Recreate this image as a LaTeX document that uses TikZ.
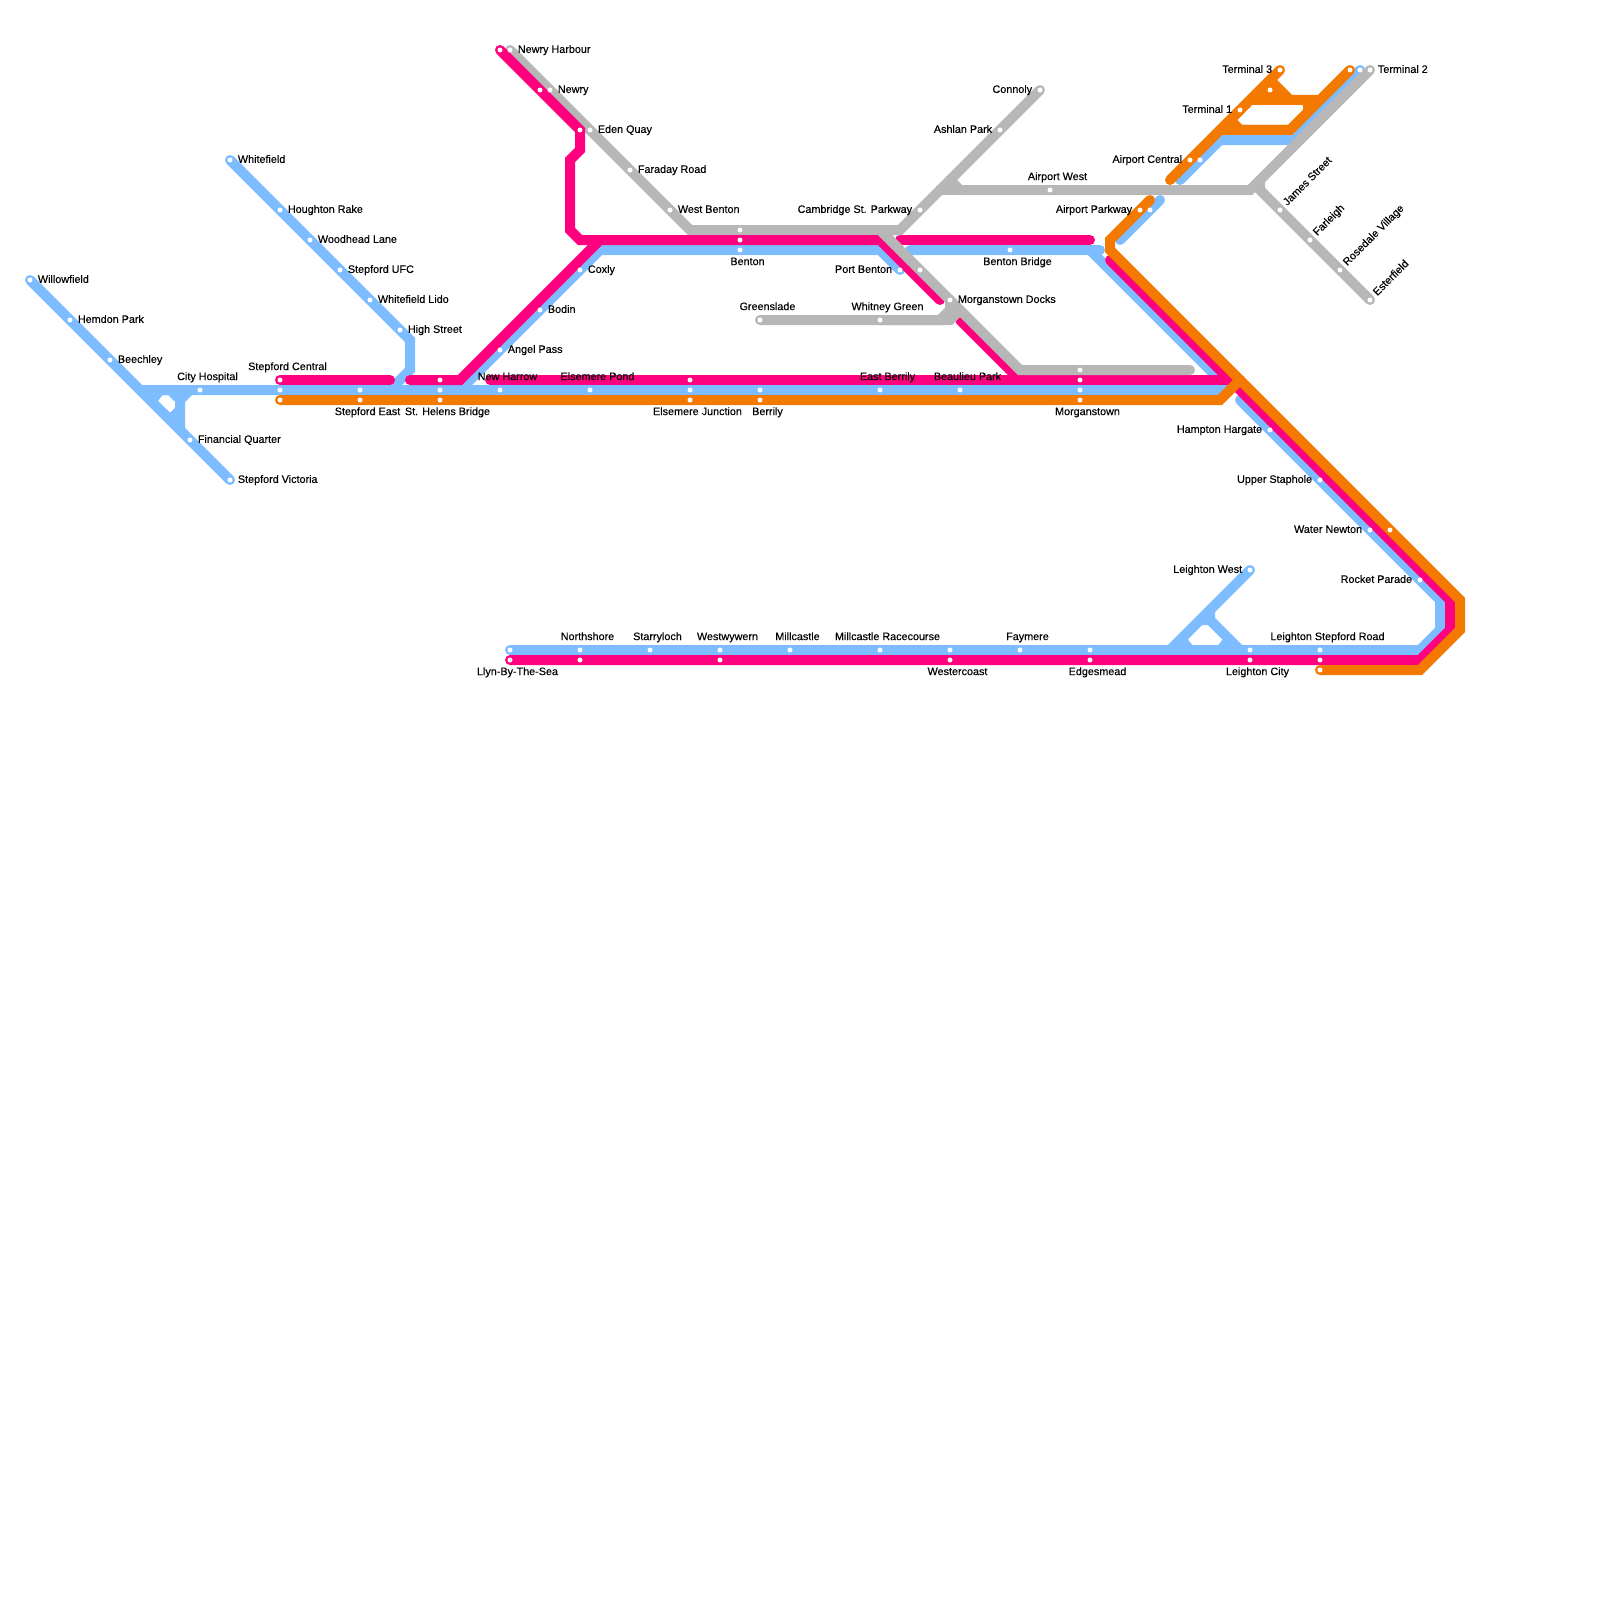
\documentclass[tikz,border=0pt]{standalone}
\usepackage{fontspec}
\setmainfont{Liberation Sans}
\newfontfamily\lblfont[FakeBold=0.3]{Liberation Sans}
\usepackage{tikz}
\usetikzlibrary{calc}
\definecolor{blueln}{HTML}{7DBCFF}
\definecolor{pinkln}{HTML}{FF007F}
\definecolor{orangeln}{HTML}{F47900}
\definecolor{grayln}{HTML}{B7B7B7}
\tikzset{
  bl/.style={draw=blueln,line width=5pt,line cap=round,line join=miter},
  pk/.style={draw=pinkln,line width=5pt,line cap=round,line join=miter},
  og/.style={draw=orangeln,line width=5pt,line cap=round,line join=miter},
  gy/.style={draw=grayln,line width=5pt,line cap=round,line join=miter},
  stn/.style={circle,fill=white,inner sep=0pt,minimum size=2.5pt},
  lb/.style={font=\lblfont\fontsize{5.4}{6}\selectfont,text=black,inner sep=0pt,text height=3.9pt,text depth=1pt},
  lr/.style={lb,anchor=west,xshift=3.75pt},
  ll/.style={lb,anchor=east,xshift=-3.75pt},
  la/.style={lb,anchor=center,xshift=3.75pt,yshift=6.4pt},
  lu/.style={lb,anchor=center,xshift=3.75pt,yshift=-6.1pt},
  ld/.style={lb,anchor=west,rotate=45,xshift=3.75pt,yshift=0.2pt},
}
\begin{document}
\begin{tikzpicture}[x=0.5pt,y=-0.5pt]
\useasboundingbox (0,0) rectangle (1600,1600);
% stations, lines run through these
\foreach \n/\x/\y in {bWillow/30/280,bHemdon/70/320,bBeech/110/360,bCity/200/390,bFinance/190/440,bVictoria/230/480,
  bWhite/230/160,bHoughton/280/210,bWoodhead/310/240,bUFC/340/270,bLido/370/300,bHigh/400/330,
  pCentral/280/380,bCentral/280/390,oCentral/280/400,bEast/360/390,oEast/360/400,
  pHelens/440/380,bHelens/440/390,oHelens/440/400,bHarrow/500/390,bPond/590/390,
  pJunction/690/380,bJunction/690/390,oJunction/690/400,bBerrily/760/390,oBerrily/760/400,
  bEastB/880/390,bBeaulieu/960/390,gMorgan/1080/370,pMorgan/1080/380,bMorgan/1080/390,oMorgan/1080/400,
  pHarbour/500/50,gHarbour/510/50,pNewry/540/90,gNewry/550/90,pEden/580/130,gEden/590/130,gFaraday/630/170,gWBenton/670/210,
  bCoxly/580/270,bBodin/540/310,bAngel/500/350,gBenton/740/230,pBenton/740/240,bBenton/740/250,
  bPort/900/270,gPort/920/270,gDocks/950/300,gCamb/920/210,gAshlan/1000/130,gConnoly/1040/90,
  gGreen/760/320,gWhitney/880/320,bBridge/1010/250,gAirW/1050/190,
  oParkway/1140/210,bParkway/1150/210,oCentralA/1190/160,bCentralA/1200/160,oTermA/1240/110,oTermB/1270/90,oTermC/1280/70,
  oTermD/1350/70,bTermD/1360/70,gTermD/1370/70,gJames/1280/210,gFarleigh/1310/240,gRosedale/1340/270,gEster/1370/300,
  bHampton/1270/430,bStaphole/1320/480,bWater/1370/530,oWater/1390/530,bRocket/1420/580,bLWest/1250/570,
  bLlyn/510/650,pLlyn/510/660,bNorth/580/650,pNorth/580/660,bStarry/650/650,bWesty/720/650,pWesty/720/660,
  bMill/790/650,bRace/880/650,bWester/950/650,pWester/950/660,bFay/1020/650,bEdges/1090/650,pEdges/1090/660,
  bLCity/1250/650,pLCity/1250/660,bRoad/1320/650,pRoad/1320/660,oRoad/1320/670}
  {\coordinate (\n) at (\x,\y);}
% grey first, under the pink
\draw[gy] (gHarbour)--(gNewry)--(gEden)--(gFaraday)--(gWBenton)--(690,230)--(880,230);
% blue
\draw[bl] (bWillow)--(bHemdon)--(bBeech)--(140,390)--(bCity)--(bCentral)--(1225,390);
\draw[bl] (140,390)--(bFinance)--(bVictoria);
\draw[bl] (190,390)--(180,400)--(180,430);
\fill[blueln,even odd rule] (145,390)--(180,390)--(180,425)--cycle
  (157.3,401.7)--(162.7,395)--(168,395)--(175,401.7)--(175,408)--(170,412.7)--cycle;
\draw[bl] (bWhite)--(bHoughton)--(bWoodhead)--(bUFC)--(bLido)--(bHigh)--(410,340)--(410,370)--(390,390);
\draw[bl] (460,390)--(bAngel)--(bBodin)--(bCoxly)--(600,250)--(880,250)--(bPort);
\draw[bl] (910,250)--(1090,250)--(1225,385);
\draw[bl] (1090,250)--(1100,250);
\draw[bl] (1240,400)--(bHampton)--(bStaphole)--(bWater)--(bRocket)--(1440,600)--(1440,630)--(1420,650)--(bLlyn);
\draw[bl] (bLWest)--(1170,650);
\draw[bl] (1210,610)--(1210,620)--(1240,650);
\fill[blueln,even odd rule] (1170,650)--(1210,610)--(1210,620)--(1240,650)--cycle
  (1187.7,639.3)--(1201.7,625)--(1208.3,625)--(1222.7,639.3)--(1218.3,645)--(1192.3,645)--cycle;
\draw[bl] (1160,200)--(bParkway)--(1120,240);
\draw[bl] (1180,180)--(bCentralA)--(1220,140)--(1290,140)--(bTermD);
% pink
\draw[pk] (pCentral)--(390,380);
\draw[pk] (410,380)--(460,380)--(600,240)--(880,240)--(940,300);
\draw[pk] (pHarbour)--(pNewry)--(pEden)--(580,150)--(570,160)--(570,230)--(580,240)--(600,240);
\draw[pk] (960,320)--(1020,380);
\draw[pk] (490,380)--(1230,380);
\draw[pk] (900,240)--(1090,240);
\draw[pk] (1110,260)--(1450,600)--(1450,630)--(1420,660)--(pLlyn);
% orange
\draw[og] (oCentral)--(1220,400)--(1240,380);
\draw[og] (1150,200)--(1110,240)--(1110,250)--(1460,600)--(1460,630)--(1420,670)--(oRoad);
\draw[og] (1170,180)--(oCentralA)--(oTermA)--(oTermC);
\draw[og] (oTermD)--(1290,130)--(1220,130);
\draw[og] (1270,80)--(1290,100)--(1320,100);
\fill[orangeln] (1270,80)--(1290,100)--(1250,100)--cycle;
\fill[orangeln,even odd rule] (1230,120)--(1250,100)--(1320,100)--(1290,130)--(1225,130)--cycle
  (1237.3,120)--(1251.7,105)--(1302.7,105)--(1303.3,110)--(1288.3,125)--(1242.3,125)--cycle;
% grey on top
\draw[gy] (880,230)--(gPort)--(gDocks)--(1020,370)--(gMorgan)--(1190,370);
\draw[gy] (gGreen)--(gWhitney)--(940,320)--(950,310)--(gDocks);
\draw[gy] (gWhitney)--(950,320)--(960,310);
\draw[gy] (gConnoly)--(gAshlan)--(gCamb)--(900,230)--(880,230);
\draw[gy] (950,180)--(960,190)--(gAirW)--(1250,190)--(gTermD);
\draw[gy] (940,190)--(960,190);
\draw[gy] (1260,180)--(1260,190)--(gJames)--(gFarleigh)--(gRosedale)--(gEster);
% dots
\foreach \n in {bWillow,bHemdon,bBeech,bCity,bFinance,bVictoria,bWhite,bHoughton,bWoodhead,bUFC,bLido,bHigh,
  pCentral,bCentral,oCentral,bEast,oEast,pHelens,bHelens,oHelens,bHarrow,bPond,pJunction,bJunction,oJunction,bBerrily,oBerrily,
  bEastB,bBeaulieu,gMorgan,pMorgan,bMorgan,oMorgan,pHarbour,gHarbour,pNewry,gNewry,pEden,gEden,gFaraday,gWBenton,
  bCoxly,bBodin,bAngel,gBenton,pBenton,bBenton,bPort,gPort,gDocks,gCamb,gAshlan,gConnoly,gGreen,gWhitney,bBridge,gAirW,
  oParkway,bParkway,oCentralA,bCentralA,oTermA,oTermB,oTermC,oTermD,bTermD,gTermD,gJames,gFarleigh,gRosedale,gEster,
  bHampton,bStaphole,bWater,oWater,bRocket,bLWest,bLlyn,pLlyn,bNorth,pNorth,bStarry,bWesty,pWesty,bMill,bRace,bWester,pWester,
  bFay,bEdges,pEdges,bLCity,pLCity,bRoad,pRoad,oRoad}
  {\node[stn] (d\n) at (\n) {};}
% labels
\foreach \n/\t in {bWillow/Willowfield,bHemdon/Hemdon Park,bBeech/Beechley,bFinance/Financial Quarter,bVictoria/Stepford Victoria,
  bWhite/Whitefield,bHoughton/Houghton Rake,bWoodhead/Woodhead Lane,bUFC/Stepford UFC,bLido/Whitefield Lido,bHigh/High Street,
  gHarbour/Newry Harbour,gNewry/Newry,gEden/Eden Quay,gFaraday/Faraday Road,gWBenton/West Benton,
  bCoxly/Coxly,bBodin/Bodin,bAngel/Angel Pass,gDocks/Morganstown Docks,gTermD/Terminal 2}
  {\node[lr] (l\n) at (\n) {\t};}
\foreach \n/\t in {bPort/Port Benton,gCamb/Cambridge St. Parkway,gAshlan/Ashlan Park,gConnoly/Connoly,oTermC/Terminal 3,oTermA/Terminal 1,
  oCentralA/Airport Central,oParkway/Airport Parkway,bHampton/Hampton Hargate,bStaphole/Upper Staphole,bWater/Water Newton,
  bRocket/Rocket Parade,bLWest/Leighton West}
  {\node[ll] (l\n) at (\n) {\t};}
\foreach \n/\t in {bCity/City Hospital,pCentral/Stepford Central,bHarrow/New Harrow,bPond/Elsemere Pond,bEastB/East Berrily,bBeaulieu/Beaulieu Park,
  gGreen/Greenslade,gWhitney/Whitney Green,gAirW/Airport West,bNorth/Northshore,bStarry/Starryloch,bWesty/Westwywern,bMill/Millcastle,
  bRace/Millcastle Racecourse,bFay/Faymere,bRoad/Leighton Stepford Road}
  {\node[la] (l\n) at (\n) {\t};}
\foreach \n/\t in {oEast/Stepford East,oHelens/St. Helens Bridge,oJunction/Elsemere Junction,oBerrily/Berrily,oMorgan/Morganstown,
  bBenton/Benton,bBridge/Benton Bridge,pLlyn/Llyn-By-The-Sea,pWester/Westercoast,pEdges/Edgesmead,pLCity/Leighton City}
  {\node[lu] (l\n) at (\n) {\t};}
\foreach \n/\t in {gJames/James Street,gFarleigh/Farleigh,gRosedale/Rosedale Village,gEster/Esterfield}
  {\node[ld] (l\n) at (\n) {\t};}
\end{tikzpicture}
\end{document}
